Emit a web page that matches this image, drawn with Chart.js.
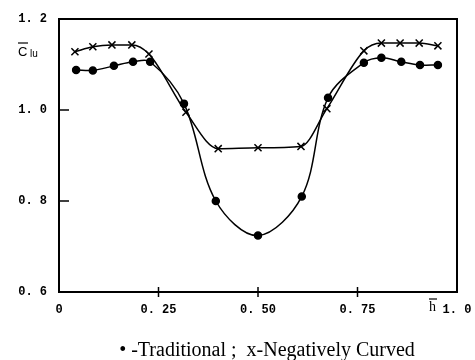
<!DOCTYPE html>
<html>
<head>
<meta charset="utf-8">
<script src="https://cdn.jsdelivr.net/npm/chart.js@4.4.0/dist/chart.umd.min.js"></script>
<style>
  html, body { margin: 0; padding: 0; background: #fff; }
  #wrap { width: 475px; height: 360px; }
</style>
</head>
<body>
<div id="wrap"><canvas id="grafica" width="475" height="360"></canvas></div>
<script>
// valores
const hTradicional = [0.043, 0.085, 0.138, 0.186, 0.229, 0.314, 0.394, 0.50, 0.61, 0.676, 0.766, 0.81, 0.86, 0.907, 0.952];
const cTradicional = [1.088, 1.087, 1.097, 1.106, 1.106, 1.014, 0.80, 0.724, 0.81, 1.027, 1.104, 1.115, 1.106, 1.099, 1.099];

const hCurvado = [0.04, 0.085, 0.133, 0.183, 0.226, 0.319, 0.40, 0.50, 0.608, 0.673, 0.766, 0.81, 0.857, 0.905, 0.952];
const cCurvado = [1.128, 1.139, 1.143, 1.143, 1.123, 0.995, 0.915, 0.917, 0.92, 1.003, 1.13, 1.147, 1.147, 1.147, 1.141];

const ticksX = [0, 0.25, 0.5, 0.75, 1.0];
const etiquetasX = ['0', '0. 25', '0. 50', '0. 75', '1. 0'];
const ticksY = [0.6, 0.8, 1.0, 1.2];
const etiquetasY = ['0. 6', '0. 8', '1. 0', '1. 2'];
const leyenda = '\u2022 -Traditional ;  x-Negatively Curved';

const puntos = (xs, ys) => xs.map((x, i) => ({ x: x, y: ys[i] }));

// marco, marcas interiores y textos sueltos
const extras = {
    id: 'extras',
    afterDraw(chart) {
        const ctx = chart.ctx;
        const a = chart.chartArea;
        const sx = chart.scales.x;
        const sy = chart.scales.y;
        ctx.save();
        ctx.strokeStyle = '#000';
        ctx.lineWidth = 2;
        ctx.strokeRect(a.left, a.top, a.right - a.left, a.bottom - a.top);

        ctx.lineWidth = 1.5;
        [0.8, 1.0].forEach(v => {
            const y = sy.getPixelForValue(v);
            ctx.beginPath();
            ctx.moveTo(a.left, y);
            ctx.lineTo(a.left + 10, y);
            ctx.stroke();
        });
        [0.25, 0.5, 0.75].forEach(v => {
            const x = sx.getPixelForValue(v);
            ctx.beginPath();
            ctx.moveTo(x, a.bottom - 5);
            ctx.lineTo(x, a.bottom + 5);
            ctx.stroke();
        });

        // titulo eje y
        ctx.fillStyle = '#000';
        ctx.textBaseline = 'alphabetic';
        ctx.font = '13px "Liberation Sans"';
        ctx.fillText('C', 18, 56);
        ctx.font = '10px "Liberation Sans"';
        ctx.fillText('lu', 30, 57);
        ctx.lineWidth = 1.2;
        ctx.beginPath();
        ctx.moveTo(18, 43);
        ctx.lineTo(28, 43);
        ctx.stroke();

        // titulo eje x
        ctx.font = '14px "Liberation Serif"';
        ctx.fillText('h', 429, 311);
        ctx.beginPath();
        ctx.moveTo(429, 299);
        ctx.lineTo(437, 299);
        ctx.stroke();

        // leyenda
        ctx.font = '20px "Liberation Serif"';
        ctx.textAlign = 'center';
        ctx.fillText(leyenda, 267, 356);
        ctx.restore();
    }
};

const grafica = new Chart(document.getElementById('grafica'), {
    type: 'scatter',
    data: {
        datasets: [{
            label: 'Traditional',
            data: puntos(hTradicional, cTradicional),
            showLine: true,
            tension: 0.35,
            borderColor: '#000',
            borderWidth: 1.5,
            backgroundColor: '#000',
            pointStyle: 'circle',
            pointRadius: 3.5
        }, {
            label: 'Negatively Curved',
            data: puntos(hCurvado, cCurvado),
            showLine: true,
            cubicInterpolationMode: 'monotone',
            borderColor: '#000',
            borderWidth: 1.5,
            backgroundColor: '#000',
            pointStyle: 'crossRot',
            pointRadius: 5,
            pointBorderWidth: 1.5
        }]
    },
    options: {
        responsive: false,
        animation: false,
        layout: { padding: { top: 19, right: 18, left: 0, bottom: 0 } },
        plugins: { legend: { display: false }, tooltip: { enabled: false } },
        scales: {
            x: {
                type: 'linear',
                min: 0, max: 1,
                afterBuildTicks: s => { s.ticks = ticksX.map(v => ({ value: v })); },
                afterFit: s => { s.height = 68; s.paddingLeft = 0; s.paddingRight = 0; },
                grid: { display: false, drawTicks: false },
                border: { display: false },
                ticks: {
                    color: '#000',
                    padding: 11,
                    maxRotation: 0,
                    font: { family: 'Liberation Mono', size: 12, weight: 'bold' },
                    callback: (v) => etiquetasX[ticksX.indexOf(v)]
                }
            },
            y: {
                min: 0.6, max: 1.2,
                afterBuildTicks: s => { s.ticks = ticksY.map(v => ({ value: v })); },
                afterFit: s => { s.width = 59; s.paddingTop = 0; s.paddingBottom = 0; },
                grid: { display: false, drawTicks: false },
                border: { display: false },
                ticks: {
                    color: '#000',
                    padding: 12,
                    font: { family: 'Liberation Mono', size: 12, weight: 'bold' },
                    callback: (v) => etiquetasY[ticksY.findIndex(t => Math.abs(t - v) < 1e-6)]
                }
            }
        }
    },
    plugins: [extras]
});
</script>
</body>
</html>
